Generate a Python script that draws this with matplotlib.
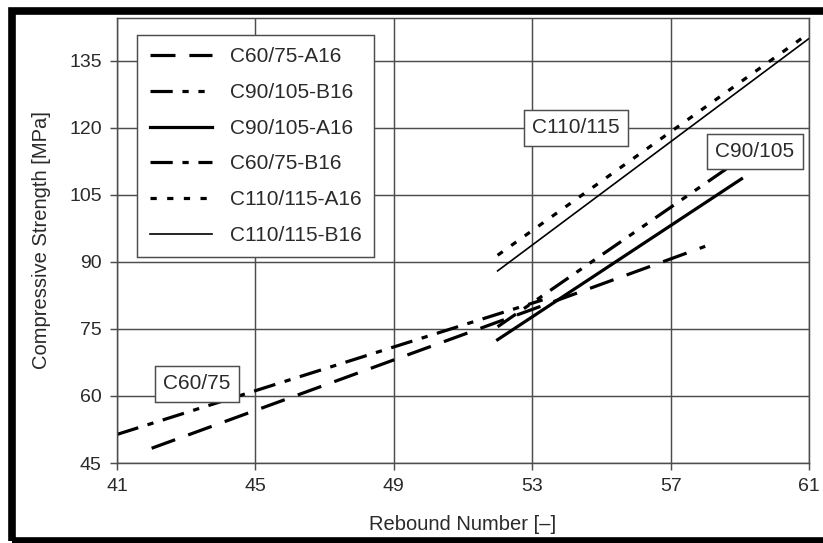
import matplotlib
matplotlib.use("Agg")
import matplotlib.pyplot as plt
from matplotlib.patches import Rectangle

plt.rcParams['font.family'] = ['Liberation Sans', 'DejaVu Sans']
plt.rcParams['lines.scale_dashes'] = False

# regression lines: rebound number -> compressive strength
labels = ['C60/75-A16', 'C90/105-B16', 'C90/105-A16',
          'C60/75-B16', 'C110/115-A16', 'C110/115-B16']
x_c6075_a16 = [42, 58]
y_c6075_a16 = [48.3, 93.5]
x_c90105_b16 = [52, 58.7]
y_c90105_b16 = [75.5, 111.3]
x_c90105_a16 = [52, 59.05]
y_c90105_a16 = [72.6, 108.6]
x_c6075_b16 = [41, 53.3]
y_c6075_b16 = [51.4, 81.5]
x_c110115_a16 = [52, 61]
y_c110115_a16 = [91.5, 141.2]
x_c110115_b16 = [52, 61]
y_c110115_b16 = [88, 140]

xticks = [41, 45, 49, 53, 57, 61]
yticks = [45, 60, 75, 90, 105, 120, 135]

# class labels placed next to the line groups
box_text = ['C60/75', 'C110/115', 'C90/105']
box_x = [43.3, 54.27, 59.44]
box_y = [62.7, 120.0, 114.7]

grey = '#4d4d4d'
ink = '#2a2a2a'

fig = plt.figure(figsize=(8.23, 5.43), dpi=100)
ax = fig.add_axes([0.1422, 0.1473, 0.8408, 0.8196])

lw_thick = 2.3
lw_thin = 1.2
ax.plot(x_c6075_a16, y_c6075_a16, color='black', lw=lw_thick,
        linestyle=(0, (18, 10)), label=labels[0])
ax.plot(x_c90105_b16, y_c90105_b16, color='black', lw=lw_thick,
        linestyle=(0, (16, 7, 4.5, 7, 4.5, 7)), label=labels[1])
ax.plot(x_c90105_a16, y_c90105_a16, color='black', lw=lw_thick,
        linestyle='-', label=labels[2])
ax.plot(x_c6075_b16, y_c6075_b16, color='black', lw=lw_thick,
        linestyle=(0, (16, 7, 4.5, 7)), label=labels[3])
ax.plot(x_c110115_a16, y_c110115_a16, color='black', lw=lw_thick,
        linestyle=(0, (4.5, 7.5)), label=labels[4])
ax.plot(x_c110115_b16, y_c110115_b16, color='black', lw=lw_thin,
        linestyle='-', label=labels[5])

ax.set_xlim(41, 61)
ax.set_ylim(45, 144.6)
ax.set_xticks(xticks)
ax.set_yticks(yticks)
ax.grid(True, color=grey, lw=1.05)
ax.set_axisbelow(True)
ax.tick_params(direction='out', length=5, width=1.05, color=grey,
               labelsize=14, labelcolor=ink, pad=6)
for s in ax.spines.values():
    s.set_color(grey)
    s.set_linewidth(1.05)

ax.set_xlabel('Rebound Number [–]', fontsize=14.5, color=ink, labelpad=14)
ax.set_ylabel('Compressive Strength [MPa]', fontsize=14.5, color=ink, labelpad=13)

for t, bx, by in zip(box_text, box_x, box_y):
    ax.text(bx, by, t, fontsize=15, color=ink, ha='center', va='center', zorder=5,
            bbox=dict(boxstyle='square,pad=0.4', fc='white', ec=grey, lw=1.05))

leg = ax.legend(loc='upper left', bbox_to_anchor=(0.0289, 0.9618), borderaxespad=0,
                fontsize=15, handlelength=3.0, handletextpad=0.85, labelspacing=0.8,
                borderpad=0.6, fancybox=False, framealpha=1, edgecolor=grey)
leg.get_frame().set_linewidth(1.05)
for t in leg.get_texts():
    t.set_color(ink)

# heavy black frame on left, top and bottom (right side runs off the page)
fig.patches.append(Rectangle((11.5 / 823, 2 / 543), 830 / 823, 530 / 543,
                             transform=fig.transFigure, fill=False,
                             ec='black', lw=5.5, clip_on=False))

fig.savefig('out.png', dpi=100)
